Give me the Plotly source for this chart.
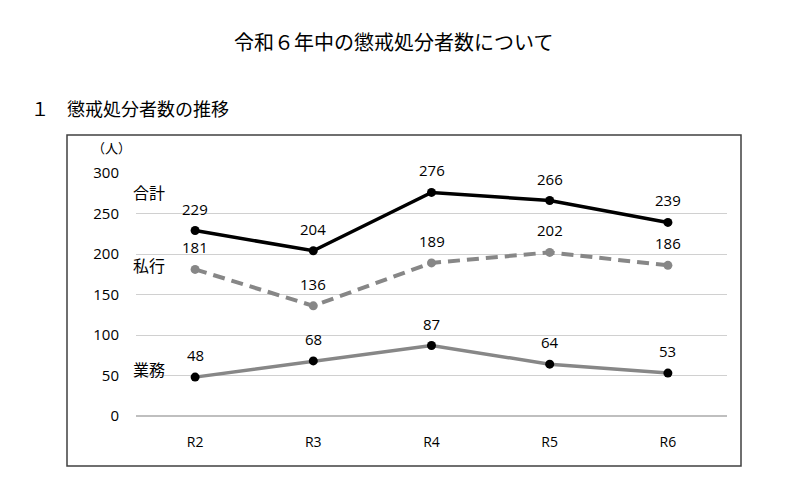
import plotly.graph_objects as go

# --- data ---
years = ["R2", "R3", "R4", "R5", "R6"]
total = [229, 204, 276, 266, 239]      # 合計
private = [181, 136, 189, 202, 186]    # 私行
duty = [48, 68, 87, 64, 53]            # 業務
series_names = ["合計", "私行", "業務"]
y_ticks = [0, 50, 100, 150, 200, 250, 300]

TITLE = "令和６年中の懲戒処分者数について"
SUBTITLE = "１　懲戒処分者数の推移"

JP = "Noto Sans CJK JP"
NUM = "Open Sans, Noto Sans, sans-serif"

W, H = 796, 483
OFF = 8  # page body margin shifts the figure by 8px
# plot area in screen pixels
X0, X1, Y0, Y1 = 136, 727, 173, 416
PW, PH = X1 - X0, Y1 - Y0


def px(p):
    return (p - X0) / PW


def py(p):
    return (Y1 - p) / PH


fig = go.Figure()

fig.add_trace(go.Scatter(
    x=years, y=total, name=series_names[0], mode="lines+markers",
    line=dict(color="black", width=3.5),
    marker=dict(color="black", size=9),
))
fig.add_trace(go.Scatter(
    x=years, y=private, name=series_names[1], mode="lines+markers",
    line=dict(color="#878787", width=4, dash="12px,7px"),
    marker=dict(color="#878787", size=9),
))
fig.add_trace(go.Scatter(
    x=years, y=duty, name=series_names[2], mode="lines+markers",
    line=dict(color="#878787", width=3.5),
    marker=dict(color="black", size=9),
))

# data labels above each point
for vals in (total, private, duty):
    for x, v in zip(years, vals):
        fig.add_annotation(
            x=x, y=v, text=str(v), showarrow=False, yshift=22,
            font=dict(family=NUM, size=15, color="black"),
        )

# series labels at the left of the plot
label_y = {"合計": 192, "私行": 265, "業務": 369}
for name in series_names:
    fig.add_annotation(
        xref="paper", yref="paper", x=px(131), y=py(label_y[name]),
        text=name, showarrow=False, xanchor="left", yanchor="middle",
        font=dict(family=JP, size=16, color="black"),
    )

# unit label
fig.add_annotation(
    xref="paper", yref="paper", x=px(90), y=py(148), text="（人）",
    showarrow=False, xanchor="left", yanchor="middle",
    font=dict(family=JP, size=13, color="black"),
)

# headings
fig.add_annotation(
    xref="paper", yref="paper", x=px(393), y=py(42),
    text=TITLE, showarrow=False, yanchor="middle",
    font=dict(family=JP, size=20, color="black"),
)
fig.add_annotation(
    xref="paper", yref="paper", x=px(29), y=py(108),
    text=SUBTITLE, showarrow=False, xanchor="left", yanchor="middle",
    font=dict(family=JP, size=18, color="black"),
)

# outer frame around the chart
fig.add_shape(
    type="rect", xref="paper", yref="paper",
    x0=px(67), x1=px(741), y0=py(466), y1=py(135),
    line=dict(color="#404040", width=1.5),
)

fig.update_layout(
    width=W, height=H,
    margin=dict(l=X0 - OFF, r=W - X1 + OFF, t=Y0 - OFF, b=H - Y1 + OFF),
    paper_bgcolor="white", plot_bgcolor="white",
    showlegend=False,
    xaxis=dict(
        range=[-0.5, len(years) - 0.5],
        showgrid=False, showline=False, zeroline=False,
        tickfont=dict(family=NUM, size=14, color="black"),
        ticklabelstandoff=16,
    ),
    yaxis=dict(
        range=[0, 300], tickvals=y_ticks,
        showgrid=True, gridcolor="#d0d0d0", gridwidth=1,
        zeroline=True, zerolinecolor="#bfbfbf", zerolinewidth=1.5,
        showline=False,
        tickfont=dict(family=NUM, size=15, color="black"),
        ticklabelstandoff=16,
    ),
)

fig.write_html("out.html")
